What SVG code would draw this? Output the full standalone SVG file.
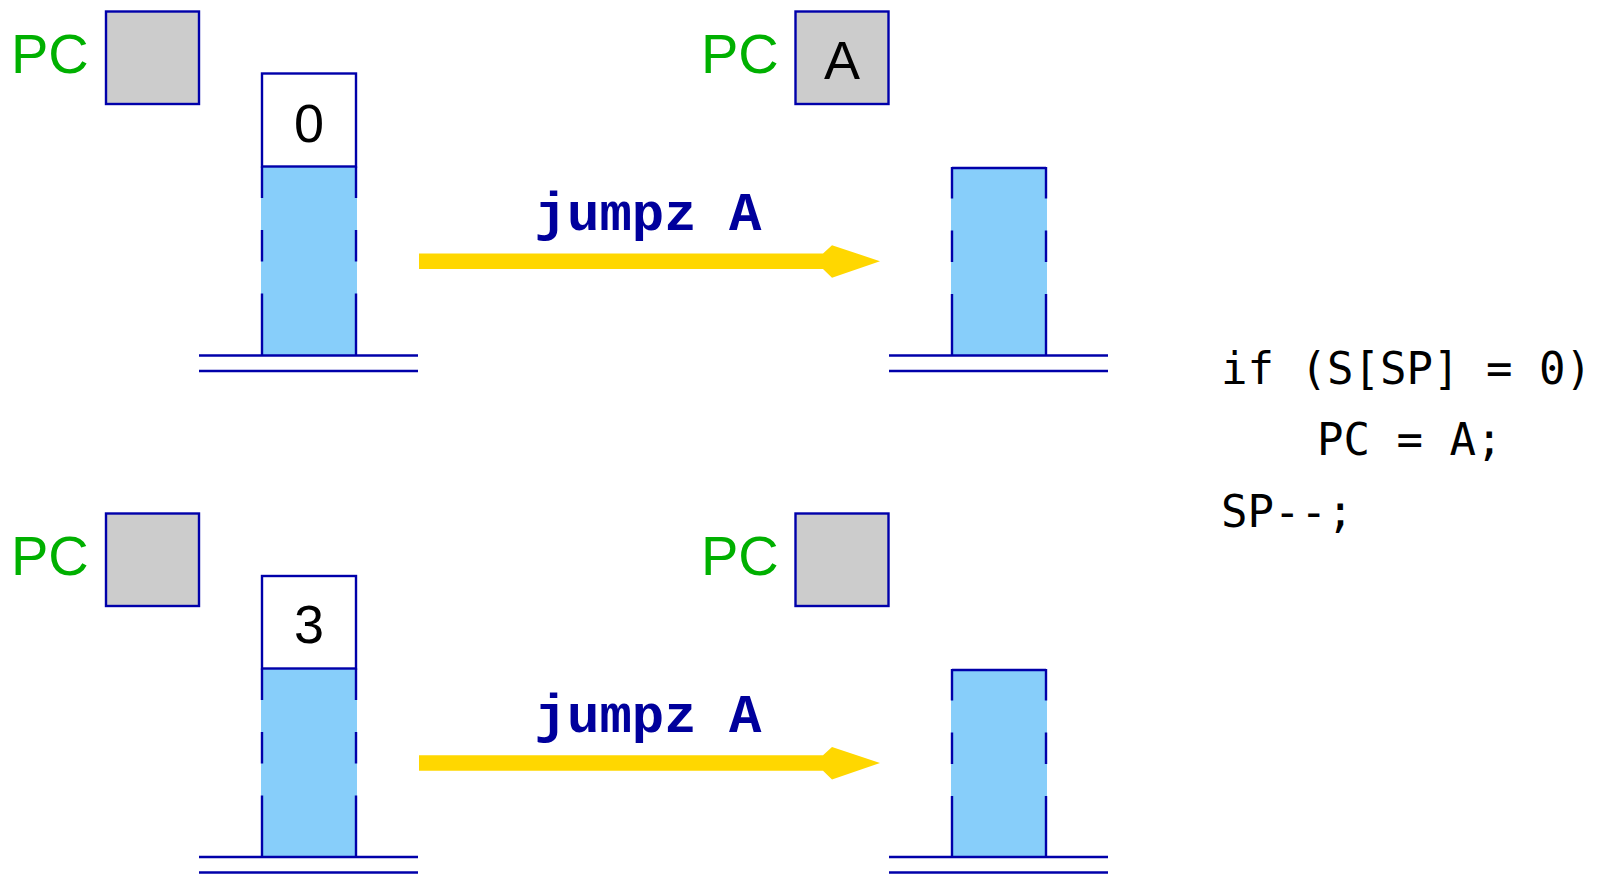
<svg xmlns="http://www.w3.org/2000/svg" width="1606" height="874" viewBox="0 0 1606 874">
  <style>
    .reg { fill: #cccccc; stroke: #0000aa; stroke-width: 2.4; }
    .cell { fill: #ffffff; stroke: #0000aa; stroke-width: 2.4; }
    .fill { fill: #87cefa; stroke: none; }
    .edge { stroke: #0000aa; stroke-width: 2.4; fill: none; }
    .side { stroke: #0000aa; stroke-width: 2.4; fill: none; stroke-dasharray: 31.5 32 31.5 32 80; }
    .base { stroke: #0000aa; stroke-width: 2.5; fill: none; }
    .pc { font-family: "Liberation Sans", Arial, sans-serif; font-size: 56px; fill: #00b000; }
    .val { font-family: "Liberation Sans", Arial, sans-serif; font-size: 54px; fill: #000000; text-anchor: middle; }
    .instr { font-family: "Liberation Mono", "Courier New", monospace; font-size: 54px; font-weight: bold; fill: #00009c; text-anchor: middle; }
    .code { font-family: "DejaVu Sans Mono", monospace; font-size: 44px; fill: #000000; }
    .arrow { fill: #ffd700; }
  </style>
  <defs>
    <!-- thick gold arrow with notched head, drawn from x=0, centred on y=0 -->
    <polygon id="bigArrow" points="0,-7.8 404,-7.8 413,-16 461,0 413,16.5 404,7.8 0,7.8"/>
    <!-- stack base: two parallel lines -->
    <g id="stackBase">
      <line x1="0" y1="0" x2="219" y2="0"/>
      <line x1="0" y1="15.5" x2="219" y2="15.5"/>
    </g>
  </defs>

  <!-- ===== top row: S[SP] = 0 ===== -->
  <g id="pc-before-top">
    <text class="pc" x="11" y="73">PC</text>
    <rect class="reg" x="106" y="11.5" width="93" height="92.5"/>
  </g>
  <g id="stack-before-top">
    <rect class="fill" x="261" y="166.5" width="96" height="189"/>
    <line class="side" x1="262" y1="166.5" x2="262" y2="355.5"/>
    <line class="side" x1="356" y1="166.5" x2="356" y2="355.5"/>
    <rect class="cell" x="262" y="73.5" width="94" height="93"/>
    <text class="val" x="309" y="141.5">0</text>
    <use href="#stackBase" class="base" x="199" y="355.5"/>
  </g>
  <g id="pc-after-top">
    <text class="pc" x="701" y="73">PC</text>
    <rect class="reg" x="795.5" y="11.5" width="93" height="92.5"/>
    <text class="val" x="842" y="78.5">A</text>
  </g>
  <g id="stack-after-top">
    <rect class="fill" x="951" y="167" width="96" height="188.5"/>
    <line class="edge" x1="952" y1="168" x2="1046" y2="168"/>
    <line class="side" x1="952" y1="167" x2="952" y2="355.5"/>
    <line class="side" x1="1046" y1="167" x2="1046" y2="355.5"/>
    <use href="#stackBase" class="base" x="889" y="355.5"/>
  </g>

  <!-- ===== bottom row: S[SP] != 0 ===== -->
  <g id="pc-before-bottom">
    <text class="pc" x="11" y="575">PC</text>
    <rect class="reg" x="106" y="513.5" width="93" height="92.5"/>
  </g>
  <g id="stack-before-bottom">
    <rect class="fill" x="261" y="668.5" width="96" height="188.5"/>
    <line class="side" x1="262" y1="668.5" x2="262" y2="857"/>
    <line class="side" x1="356" y1="668.5" x2="356" y2="857"/>
    <rect class="cell" x="262" y="576" width="94" height="92.5"/>
    <text class="val" x="309" y="642.5">3</text>
    <use href="#stackBase" class="base" x="199" y="857"/>
  </g>
  <g id="pc-after-bottom">
    <text class="pc" x="701" y="575">PC</text>
    <rect class="reg" x="795.5" y="513.5" width="93" height="92.5"/>
  </g>
  <g id="stack-after-bottom">
    <rect class="fill" x="951" y="669" width="96" height="188"/>
    <line class="edge" x1="952" y1="670" x2="1046" y2="670"/>
    <line class="side" x1="952" y1="669" x2="952" y2="857"/>
    <line class="side" x1="1046" y1="669" x2="1046" y2="857"/>
    <use href="#stackBase" class="base" x="889" y="857"/>
  </g>

  <!-- ===== transitions ===== -->
  <g id="connectors">
    <g id="step-top">
      <use href="#bigArrow" class="arrow" x="419" y="261.2"/>
      <text class="instr" x="648" y="230">jumpz A</text>
    </g>
    <g id="step-bottom">
      <use href="#bigArrow" class="arrow" x="419" y="763"/>
      <text class="instr" x="648" y="731.5">jumpz A</text>
    </g>
  </g>

  <!-- ===== semantics ===== -->
  <g id="semantics">
    <text class="code" x="1221" y="384">if (S[SP] = 0)</text>
    <text class="code" x="1317" y="455">PC = A;</text>
    <text class="code" x="1221" y="527">SP--;</text>
  </g>
</svg>
